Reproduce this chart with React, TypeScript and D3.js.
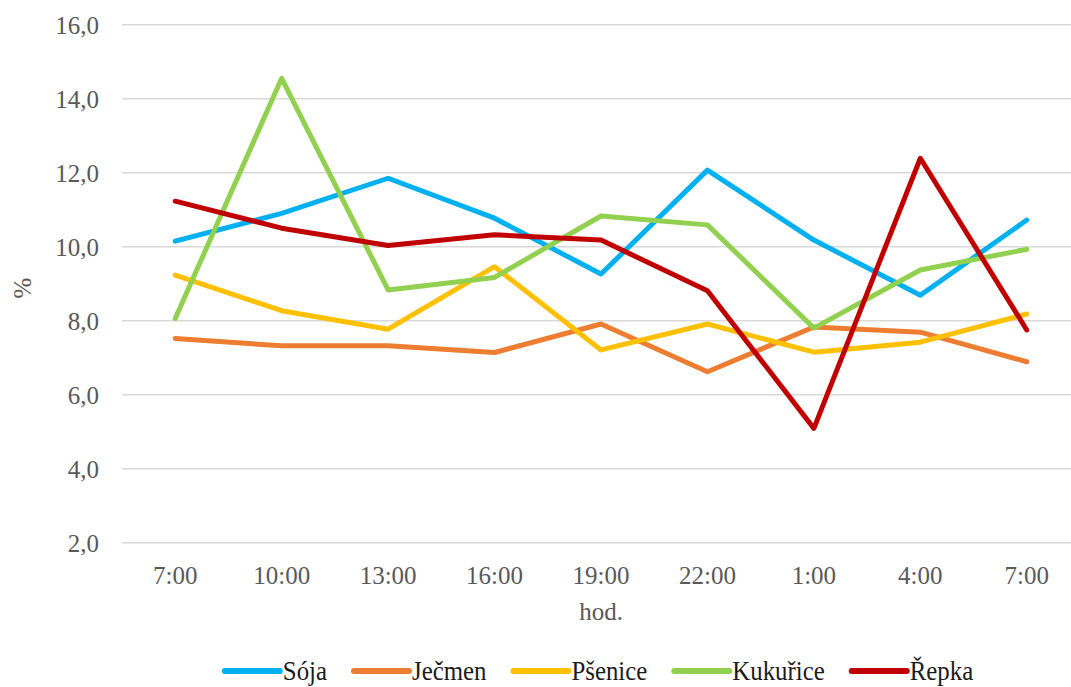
import React, { useEffect, useRef } from "react";
import * as d3 from "d3";

const categories = ["7:00", "10:00", "13:00", "16:00", "19:00", "22:00", "1:00", "4:00", "7:00"];
const seriesNames = ["Sója", "Ječmen", "Pšenice", "Kukuřice", "Řepka"];
const seriesColors = ["#00B0F0", "#ED7D31", "#FFC000", "#92D050", "#C00000"];
const soja = [10.15, 10.9, 11.85, 10.77, 9.26, 12.07, 10.18, 8.69, 10.72];
const jecmen = [7.52, 7.32, 7.32, 7.14, 7.91, 6.62, 7.83, 7.69, 6.89];
const psenice = [9.23, 8.27, 7.77, 9.46, 7.21, 7.91, 7.15, 7.42, 8.18];
const kukurice = [8.06, 14.55, 8.83, 9.17, 10.83, 10.59, 7.8, 9.37, 9.93];
const repka = [11.23, 10.5, 10.03, 10.32, 10.18, 8.81, 5.09, 12.39, 7.75];
const yTicks = [2, 4, 6, 8, 10, 12, 14, 16];
const yLabel = "%";
const xLabel = "hod.";

const W = 1071;
const H = 687;

export default function App() {
  const ref = useRef<SVGSVGElement | null>(null);

  useEffect(() => {
    const svg = d3.select(ref.current);
    svg.selectAll("*").remove();
    const allSeries = [soja, jecmen, psenice, kukurice, repka];

    const x = d3
      .scaleBand<number>()
      .domain(categories.map((_, i) => i))
      .range([122, 1080]);
    const y = d3.scaleLinear().domain([2, 16]).range([542.7, 24.7]);
    const cx = (i: number) => (x(i) as number) + x.bandwidth() / 2;

    const font = "Liberation Serif, Times New Roman, DejaVu Serif, serif";

    svg
      .append("g")
      .selectAll("line")
      .data(yTicks)
      .join("line")
      .attr("x1", 122)
      .attr("x2", 1080)
      .attr("y1", (d) => y(d))
      .attr("y2", (d) => y(d))
      .attr("stroke", "#D9D9D9")
      .attr("stroke-width", 1.5);

    svg
      .append("g")
      .selectAll("text")
      .data(yTicks)
      .join("text")
      .attr("x", 99)
      .attr("y", (d) => y(d))
      .attr("dy", "0.36em")
      .attr("text-anchor", "end")
      .style("font-family", font)
      .style("font-size", "25px")
      .attr("fill", "#595959")
      .text((d) => d.toFixed(1).replace(".", ","));

    svg
      .append("g")
      .selectAll("text")
      .data(categories)
      .join("text")
      .attr("x", (_, i) => cx(i))
      .attr("y", 584)
      .attr("text-anchor", "middle")
      .style("font-family", font)
      .style("font-size", "25px")
      .attr("fill", "#595959")
      .text((d) => d);

    svg
      .append("text")
      .attr("x", 601)
      .attr("y", 620)
      .attr("text-anchor", "middle")
      .style("font-family", font)
      .style("font-size", "25px")
      .attr("fill", "#595959")
      .text(xLabel);

    svg
      .append("text")
      .attr("transform", "translate(31,288) rotate(-90)")
      .attr("text-anchor", "middle")
      .style("font-family", font)
      .style("font-size", "25px")
      .attr("fill", "#595959")
      .text(yLabel);

    const line = d3
      .line<number>()
      .x((_, i) => cx(i))
      .y((d) => y(d));

    allSeries.forEach((s, k) => {
      svg
        .append("path")
        .datum(s)
        .attr("d", line)
        .attr("fill", "none")
        .attr("stroke", seriesColors[k])
        .attr("stroke-width", 5)
        .attr("stroke-linejoin", "round")
        .attr("stroke-linecap", "round");
    });

    const lg = svg.append("g");
    const lineLen = 55;
    const textGap = 3;
    const itemGap = 27;
    const sx = 0.92;
    const items: { g: any; w: number }[] = [];
    seriesNames.forEach((name, k) => {
      const g = lg.append("g");
      g.append("line")
        .attr("x1", 0)
        .attr("x2", lineLen)
        .attr("y1", 0)
        .attr("y2", 0)
        .attr("stroke", seriesColors[k])
        .attr("stroke-width", 6)
        .attr("stroke-linecap", "round");
      const t = g
        .append("text")
        .attr("transform", `translate(${lineLen + textGap},0) scale(${sx},1)`)
        .attr("y", 0)
        .attr("dy", "0.33em")
        .style("font-family", font)
        .style("font-size", "27px")
        .attr("fill", "#1a1a1a")
        .text(name);
      const tw = (t.node() as SVGTextElement).getComputedTextLength() * sx;
      items.push({ g, w: lineLen + textGap + tw });
    });
    const total = items.reduce((a, b) => a + b.w, 0) + itemGap * (items.length - 1);
    let pos = 599 - total / 2;
    items.forEach((it) => {
      it.g.attr("transform", `translate(${pos},671)`);
      pos += it.w + itemGap;
    });
  }, []);

  return (
    <svg
      ref={ref}
      width={W}
      height={H}
      style={{ position: "absolute", left: 0, top: 0, background: "#fff" }}
    />
  );
}
